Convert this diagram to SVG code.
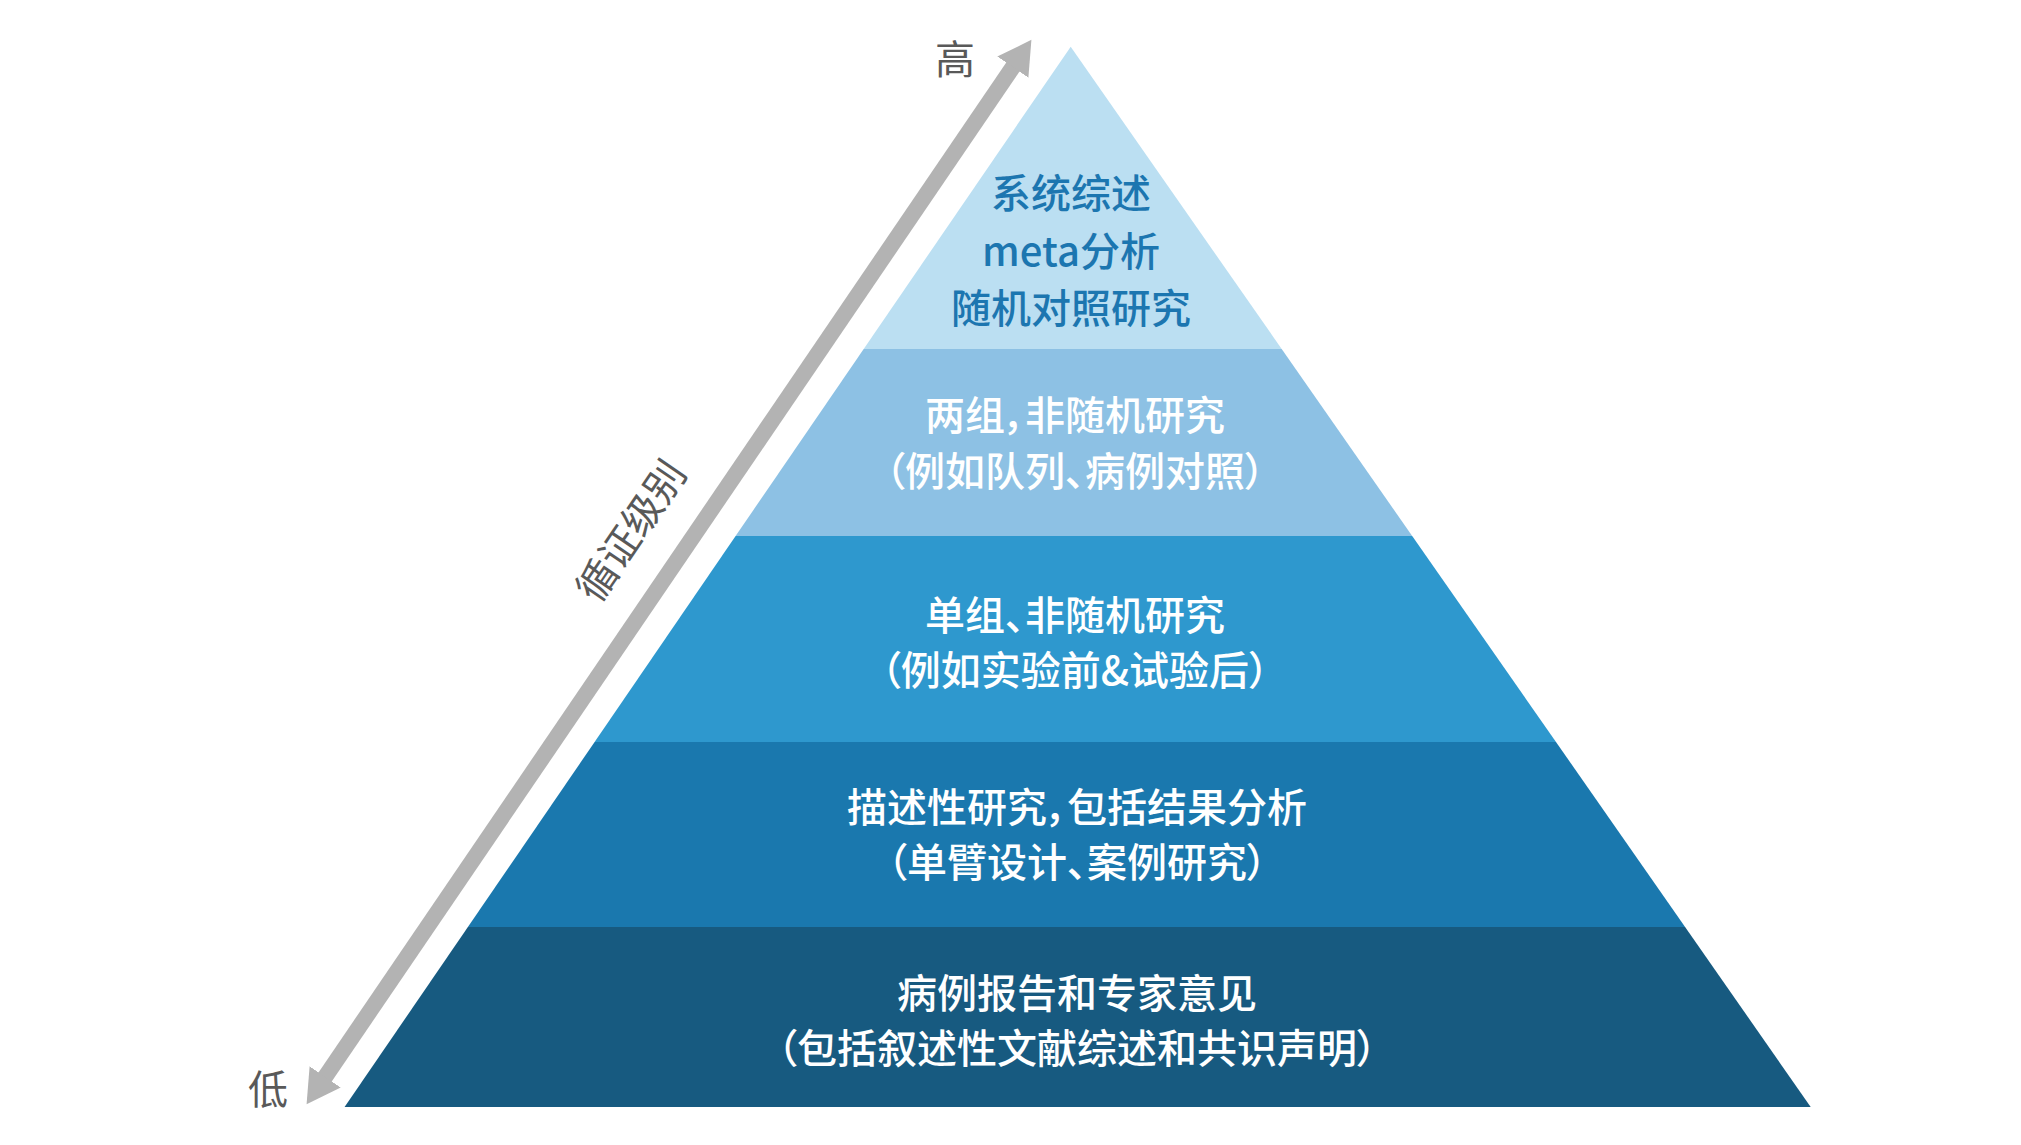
<svg xmlns="http://www.w3.org/2000/svg" width="2021" height="1145" viewBox="0 0 2021 1145">
  <style>
    text { font-family: "Noto Sans CJK SC", "Noto Sans", sans-serif; font-feature-settings: "palt" 1; }
    .lbl { font-size: 40px; font-weight: 500; text-anchor: middle; fill: #ffffff; }
    .top { fill: #1C76B0; }
    .axis { font-size: 40px; fill: #595959; text-anchor: middle; }
  </style>
  <defs>
    <marker id="head" markerUnits="userSpaceOnUse" viewBox="0 -19 34 38" markerWidth="34" markerHeight="38" refX="1" refY="0" orient="auto-start-reverse">
      <path d="M0,-18.8 L33,0 L0,18.8 Z" fill="#B3B3B3"/>
    </marker>
  </defs>
  <rect width="2021" height="1145" fill="#ffffff"/>

  <g id="band1">
    <polygon points="1070.7,46.7 1281.7,349 863.7,349" fill="#BBDFF2"/>
    <text class="lbl top" x="1071" y="208">系统综述</text>
    <text class="lbl top" x="1071" y="266">meta分析</text>
    <text class="lbl top" x="1071" y="323">随机对照研究</text>
  </g>
  <g id="band2">
    <polygon points="863.7,349 1281.7,349 1412.2,536 735.6,536" fill="#8DC1E4"/>
    <text class="lbl" x="1075" y="430">两组，非随机研究</text>
    <text class="lbl" x="1075" y="486">（例如队列、病例对照）</text>
  </g>
  <g id="band3">
    <polygon points="735.6,536 1412.2,536 1556,742 594.6,742" fill="#2E98CE"/>
    <text class="lbl" x="1075" y="630">单组、非随机研究</text>
    <text class="lbl" x="1075" y="685">（例如实验前&amp;试验后）</text>
  </g>
  <g id="band4">
    <polygon points="594.6,742 1556,742 1685.1,927 467.9,927" fill="#1A78AE"/>
    <text class="lbl" x="1077" y="822">描述性研究，包括结果分析</text>
    <text class="lbl" x="1077" y="877">（单臂设计、案例研究）</text>
  </g>
  <g id="band5">
    <polygon points="467.9,927 1685.1,927 1810.7,1107 344.6,1107" fill="#175A80"/>
    <text class="lbl" x="1077" y="1008">病例报告和专家意见</text>
    <text class="lbl" x="1077" y="1063">（包括叙述性文献综述和共识声明）</text>
  </g>

  <g id="connectors">
    <line x1="324.6" y1="1077.7" x2="1013.4" y2="66.3" stroke="#B3B3B3" stroke-width="16" marker-start="url(#head)" marker-end="url(#head)"/>
  </g>
  <g id="axis-labels">
    <text class="axis" x="955" y="74">高</text>
    <text class="axis" x="268" y="1104">低</text>
    <text class="axis" x="643" y="539" transform="rotate(-55.7 643 539)">循证级别</text>
  </g>
</svg>
